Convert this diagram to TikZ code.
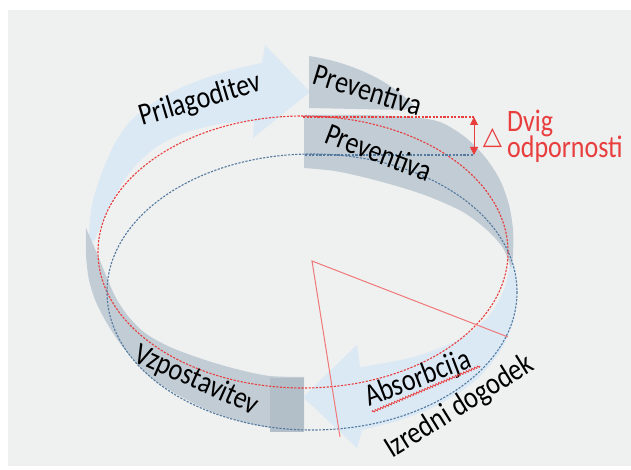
\documentclass[tikz,border=0pt]{standalone}
\usepackage{fontspec}
\setmainfont{Carlito}
\newfontfamily\symfont{DejaVu Sans}
\usetikzlibrary{arrows.meta, decorations.pathmorphing}
\definecolor{bg}{RGB}{239,240,240}
\definecolor{bandblue}{RGB}{219,233,245}
\definecolor{bandgray}{RGB}{193,204,213}
\definecolor{bandgraydk}{RGB}{178,190,200}
\definecolor{odpred}{RGB}{232,62,62}
\definecolor{odpblue}{RGB}{84,122,160}
\definecolor{wedgered}{RGB}{240,120,120}
\tikzset{
  blueband/.style={fill=bandblue, draw=none},
  grayband/.style={fill=bandgray, draw=none},
  ring/.style={line width=1.1pt, dash pattern=on 2.2pt off 1.4pt},
  wedge/.style={draw=wedgered, line width=1pt},
  lbl/.style={font=\fontsize{26}{28}\selectfont, text=black, inner sep=0pt, anchor=base, yscale=1.2},
  lift/.style={draw=odpred, line width=1pt, {Triangle[width=8pt,length=8pt]}-{Triangle[width=8pt,length=8pt]}},
}

\begin{document}
\begin{tikzpicture}[x=1pt, y=-1pt]
\useasboundingbox (0,0) rectangle (631,470);
\fill[bg] (8,10) rectangle (631,466);

% ── Trak: prilagoditev (zgoraj levo) ─────────────────────────
\fill[blueband] plot[smooth, tension=0.6] coordinates {(89,238) (92,205) (103,170) (118,138) (137,115) (168,94) (203,79) (235,69) (262,63)}
  -- (265,45) -- (310,92) -- (253,138) -- (254,121)
  -- plot[smooth, tension=0.6] coordinates {(254,121) (220,124) (185,133) (155,148) (130,172) (113,200) (100,228) (94,242)} -- cycle;

% ── Trak: vzpostavitev (spodaj levo) ─────────────────────────
\fill[grayband] plot[smooth] coordinates {(86,228) (86,255) (89,280) (96,302) (108,325) (125,350) (150,377) (180,396) (215,413) (260,426) (304,431)}
  -- (304,377)
  -- plot[smooth] coordinates {(304,377) (270,376) (240,370) (205,360) (170,347) (145,333) (128,316) (116,298) (107,278) (99,258)} -- cycle;

% ── Trak: absorbcija (spodaj desno) ──────────────────────────
\fill[blueband] plot[smooth] coordinates {(511,255) (517,280) (515,315) (502,348) (476,380) (438,405) (400,420) (362,430)}
  -- (357,448) -- (303,397) -- (357,345) -- (360,367)
  -- plot[smooth] coordinates {(360,367) (385,363) (417,356) (458,340) (488,317) (503,292) (509,270) (511,255)} -- cycle;
\fill[bandgraydk] (270,378) rectangle (304,432);

% ── Trak: preventiva (zgoraj desno) ──────────────────────────
\fill[grayband] (309,108) -- (309,56) .. controls (350,62) and (390,80) .. (414,106) -- (404,110) -- cycle;
\fill[grayband] (304,168) -- (304,115)
  -- plot[smooth] coordinates {(304,115) (360,115) (410,117) (440,122) (465,137) (485,157) (500,180) (509,205) (513,230) (513,255) (511,268)}
  -- plot[smooth] coordinates {(511,268) (503,248) (487,230) (463,212) (430,197) (400,187) (367,178) (335,171) (304,168)} -- cycle;

% ── Elipsi in dvig ───────────────────────────────────────────
\draw[ring, draw=odpred] (303,252) ellipse [x radius=205, y radius=136];
\draw[ring, draw=odpblue] (312,292) ellipse [x radius=205, y radius=138];

\coordinate (redtop) at (303,117);
\coordinate (bluetop) at (305,155);
\coordinate (liftA) at (474,117);
\coordinate (liftB) at (474,155);
\draw[ring, draw=odpred] (redtop) -- (liftA);
\draw[ring, draw=odpblue] (bluetop) -- (liftB);
\draw[lift] (liftA) -- (liftB);

% ── Izredni dogodek ──────────────────────────────────────────
\coordinate (hit) at (312,261);
\coordinate (hitR) at (508,337);
\coordinate (hitB) at (340,437);
\draw[wedge] (hitR) -- (hit) -- (hitB);

% ── Napisi ───────────────────────────────────────────────────
\node[rotate=16.6, lbl] (prilag) at (203,108) {Prilagoditev};
\node[rotate=-17, lbl] (prevA) at (365,100) {Preventiva};
\node[rotate=-21, lbl] (prevB) at (375,162) {Preventiva};
\node[rotate=-24, lbl] (vzpost) at (193,388) {Vzpostavitev};
\node[rotate=21, lbl] (absorb) at (421,387) {Absorbcija};
\node[rotate=31.7, lbl] (izred) at (464,414) {Izredni dogodek};
\draw[odpred, line width=0.8pt, decorate, decoration={snake, amplitude=1pt, segment length=3pt}] (372,412) -- (480,366);

\node[font=\symfont\fontsize{25}{25}\selectfont, text=odpred, inner sep=0pt] (delta) at (492.5,138) {△};
\node[font={\fontsize{26}{21.7}\selectfont\lineskiplimit=-20pt}, text=odpred, align=left, anchor=base west, inner sep=0pt, yscale=1.2] (dvig) at (507,158) {Dvig\\odpornosti};

\end{tikzpicture}
\end{document}
